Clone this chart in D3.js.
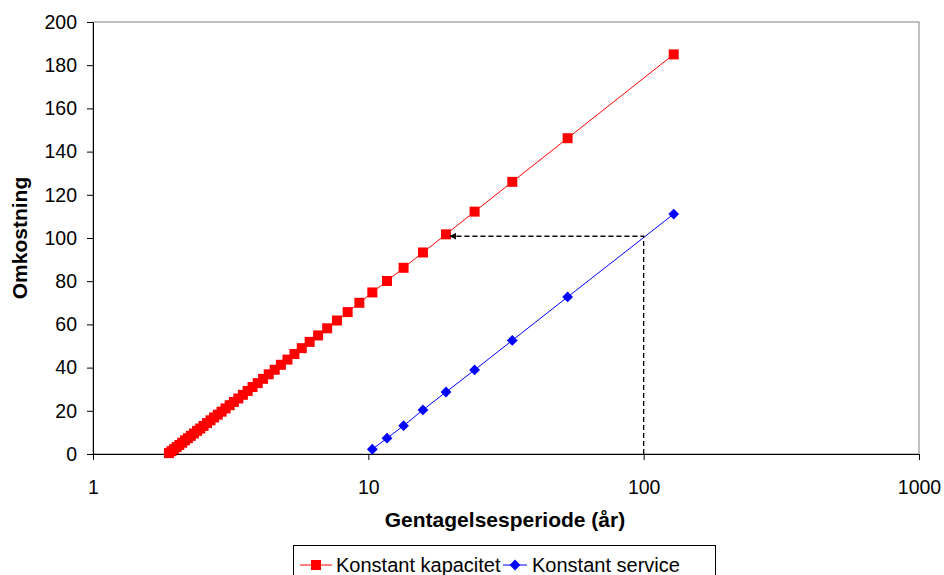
<!DOCTYPE html>
<html>
<head>
<meta charset="utf-8">
<script src="https://cdn.jsdelivr.net/npm/d3@7"></script>
<style>
  body { margin: 0; background: #fff; }
  svg { font-family: "Liberation Sans", Arial, sans-serif; }
</style>
</head>
<body>
<svg id="chart" width="944" height="575"></svg>
<script>
// gentagelsesperiode (år) for hvert punkt
var periodeKap = [128.57, 52.94, 33.33, 24.32, 19.15, 15.79, 13.43, 11.69, 10.34, 9.278,
    8.411, 7.692, 7.087, 6.569, 6.122, 5.732, 5.389, 5.085, 4.813, 4.569,
    4.348, 4.147, 3.965, 3.797, 3.644, 3.502, 3.371, 3.249, 3.136, 3.030,
    2.932, 2.839, 2.752, 2.671, 2.594, 2.521, 2.452, 2.387, 2.326, 2.267,
    2.211, 2.158, 2.108, 2.059, 2.013, 1.969, 1.927, 1.887]
var omkKap = [185.0, 146.2, 126.0, 112.2, 101.7, 93.3, 86.2, 80.1, 74.8, 70.0,
    65.7, 61.8, 58.2, 54.9, 51.9, 49.0, 46.3, 43.7, 41.3, 39.0,
    36.9, 34.8, 32.8, 31.0, 29.2, 27.4, 25.7, 24.1, 22.6, 21.1,
    19.6, 18.2, 16.9, 15.6, 14.3, 13.0, 11.8, 10.7, 9.5, 8.4,
    7.3, 6.3, 5.2, 4.2, 3.2, 2.2, 1.3, 0.4]

var periodeSrv = [128.57, 52.94, 33.33, 24.32, 19.15, 15.79, 13.43, 11.69, 10.34]
var omkSrv = [111.1, 72.7, 52.6, 38.9, 28.7, 20.4, 13.1, 7.3, 2.2]

// stiplet aflæsning: 100 år -> omkostning -> konstant kapacitet
var pilX = [100, 100, 19.8]
var pilY = [0, 100.8, 100.8]

var xTicks = [1, 10, 100, 1000]
var yTicks = [0, 20, 40, 60, 80, 100, 120, 140, 160, 180, 200]

// diamant = kvadrat drejet 45 grader
var serier = [
    { navn: "Konstant kapacitet", x: periodeKap, y: omkKap, farve: "#FF0000", str: 100, drej: 0 },
    { navn: "Konstant service", x: periodeSrv, y: omkSrv, farve: "#0000FF", str: 58, drej: 45 }
]

var svg = d3.select("#chart")
var pad = { left: 93, right: 919, top: 22, bottom: 454 }

var x = d3.scaleLog().domain([1, 1000]).range([pad.left, pad.right])
var y = d3.scaleLinear().domain([0, 200]).range([pad.bottom, pad.top])

// plotområde
svg.append("rect")
    .attr("x", pad.left).attr("y", pad.top)
    .attr("width", pad.right - pad.left).attr("height", pad.bottom - pad.top)
    .attr("fill", "none").attr("stroke", "#808080").attr("stroke-width", 1)

// akser
svg.append("g")
    .attr("transform", "translate(" + pad.left + ",0)")
    .call(d3.axisLeft(y).tickValues(yTicks).tickSize(6).tickSizeOuter(0).tickPadding(10))
svg.append("g")
    .attr("transform", "translate(0," + pad.bottom + ")")
    .call(d3.axisBottom(x).tickValues(xTicks).tickFormat(d3.format("d")).tickSize(6).tickSizeOuter(0).tickPadding(20))

svg.selectAll(".tick text")
    .attr("font-size", "19.5px")
    .attr("font-family", "Liberation Sans, Arial, sans-serif")
    .attr("fill", "#000")
svg.selectAll(".domain, .tick line").attr("stroke", "#000")

// serier
for (var s of serier) {
    var idx = d3.range(s.x.length)
    svg.append("path")
        .datum(idx)
        .attr("d", d3.line().x(i => x(s.x[i])).y(i => y(s.y[i])))
        .attr("fill", "none")
        .attr("stroke", s.farve)
        .attr("stroke-width", 1)
    svg.append("g").selectAll("path")
        .data(idx)
        .join("path")
        .attr("transform", i => "translate(" + x(s.x[i]) + "," + y(s.y[i]) + ") rotate(" + s.drej + ")")
        .attr("d", d3.symbol().type(d3.symbolSquare).size(s.str))
        .attr("fill", s.farve)
}

// stiplet linje med pil (tegnes oven på punkterne)
svg.append("defs").append("marker")
    .attr("id", "pil")
    .attr("viewBox", "0 0 10 10")
    .attr("refX", 9).attr("refY", 5)
    .attr("markerWidth", 7).attr("markerHeight", 7)
    .attr("markerUnits", "userSpaceOnUse")
    .attr("orient", "auto")
    .append("path").attr("d", "M0,0 L10,5 L0,10 z").attr("fill", "#000")

svg.append("path")
    .datum(d3.range(pilX.length))
    .attr("d", d3.line().x(i => x(pilX[i])).y(i => y(pilY[i])))
    .attr("fill", "none")
    .attr("stroke", "#000")
    .attr("stroke-width", 1.3)
    .attr("stroke-dasharray", "5,3")
    .attr("marker-end", "url(#pil)")

// aksetitler
svg.append("text")
    .attr("x", (pad.left + pad.right) / 2 - 1).attr("y", 527)
    .attr("text-anchor", "middle")
    .attr("font-size", "21px").attr("font-weight", "bold")
    .text("Gentagelsesperiode (år)")
svg.append("text")
    .attr("transform", "translate(27," + ((pad.top + pad.bottom) / 2) + ") rotate(-90)")
    .attr("text-anchor", "middle")
    .attr("font-size", "21px").attr("font-weight", "bold")
    .text("Omkostning")

// legende
var leg = svg.append("g")
leg.append("rect")
    .attr("x", 293.5).attr("y", 545.5).attr("width", 422).attr("height", 34)
    .attr("fill", "#fff").attr("stroke", "#000")
var legX = [300, 503]
var legLinje = [32, 24]
var legTekst = [36, 29]
serier.forEach(function (s, k) {
    var g = leg.append("g").attr("transform", "translate(" + legX[k] + ",565)")
    g.append("line").attr("x1", 0).attr("x2", legLinje[k]).attr("stroke", s.farve).attr("stroke-width", 1)
    g.append("path").attr("transform", "translate(" + (legLinje[k] / 2) + ",0) rotate(" + s.drej + ")")
        .attr("d", d3.symbol().type(d3.symbolSquare).size(s.str)).attr("fill", s.farve)
    g.append("text").attr("x", legTekst[k]).attr("y", 7)
        .attr("font-size", "20px")
        .text(s.navn)
})
</script>
</body>
</html>
